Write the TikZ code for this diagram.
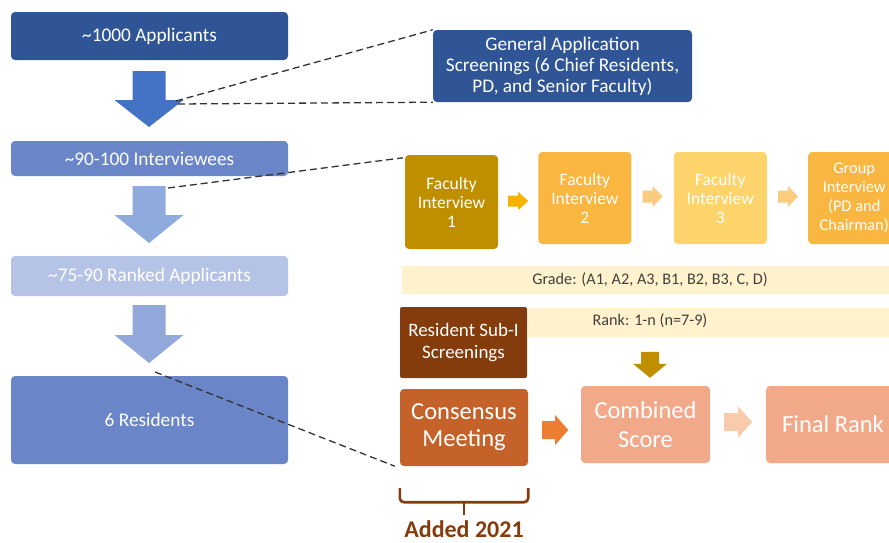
\documentclass[tikz,border=0pt]{standalone}
\usepackage{fontspec}
\setmainfont{Carlito}
\usetikzlibrary{positioning}

\definecolor{navy}{HTML}{2F5597}
\definecolor{midblue}{HTML}{6A86C8}
\definecolor{paleblue}{HTML}{B4C3E6}
\definecolor{arrowA}{HTML}{4472C4}
\definecolor{arrowB}{HTML}{8FAADC}
\definecolor{arrowC}{HTML}{93A8DA}
\definecolor{darkgold}{HTML}{BF8F00}
\definecolor{gold}{HTML}{F5B300}
\definecolor{amber}{HTML}{F9B640}
\definecolor{lightamber}{HTML}{FDD36C}
\definecolor{paleamber}{HTML}{FBCB80}
\definecolor{cream}{HTML}{FFF2CC}
\definecolor{brown}{HTML}{843C0C}
\definecolor{rust}{HTML}{C4622A}
\definecolor{orange}{HTML}{ED7D31}
\definecolor{salmon}{HTML}{F2A98A}
\definecolor{palesalmon}{HTML}{F8CBAD}

\tikzset{
  pics/blockarrow/.style n args={4}{code={
    \fill[sharp corners, pic actions] (0,-#2) -- (#4,-#2) -- (#4,-#3) -- (#1,0)
      -- (#4,#3) -- (#4,#2) -- (0,#2) -- cycle;
  }}
}

\begin{document}
\begin{tikzpicture}[x=1pt, y=-1pt,
    every node/.style={rounded corners=4pt, inner sep=0pt, align=center, text=white},
    stage/.style={fill=#1, minimum width=277pt, font=\fontsize{19.3}{22}\selectfont},
    interview/.style={fill=#1, minimum width=93pt, minimum height=92pt,
                      font=\fontsize{17.5}{19}\selectfont},
    outcome/.style={fill=#1, minimum height=77pt, font=\fontsize{24.5}{28}\selectfont},
    band/.style={fill=cream, rounded corners=2pt},
    bandtext/.style={text=black!75, font=\fontsize{16.2}{18}\selectfont},
    guide/.style={draw=black!80, line width=1.3pt, dash pattern=on 7pt off 4pt}
  ]
    \useasboundingbox (0,0) rectangle (889,542);
    \clip (0,0) rectangle (889,542);

    % left funnel
    \node[stage=navy, minimum height=48pt] (applicants) at (149.5,36) {\textasciitilde1000 Applicants};
    \node[stage=midblue, minimum height=35pt] (interviewees) at (149.5,158.5) {\textasciitilde90-100 Interviewees};
    \node[stage=paleblue, minimum height=40pt] (ranked) at (149.5,276) {\textasciitilde75-90 Ranked Applicants};
    \node[stage=midblue, minimum height=88pt] (residents) at (149.5,420) {6 Residents};

    \pic[fill=arrowA, rotate=-90] at (149,71) {blockarrow={56}{16.5}{34.5}{29}};
    \pic[fill=arrowB, rotate=-90] at (149,186) {blockarrow={57}{16.5}{34.5}{29}};
    \pic[fill=arrowC, rotate=-90] at (149,305) {blockarrow={58}{16.5}{34.5}{30}};

    \coordinate (cut1a) at (176,101);
    \coordinate (cut1b) at (178,104);
    \coordinate (cut2) at (168,188);
    \coordinate (cut3) at (155,372);

    % screening box
    \node[fill=navy, minimum width=259pt, minimum height=72pt,
          font=\fontsize{19.3}{21}\selectfont] (general) at (562.5,66)
          {General Application\\Screenings (6 Chief Residents,\\PD, and Senior Faculty)};

    % interview row
    \node[interview=darkgold, minimum height=94pt] (fi1) at (451.5,202) {Faculty\\Interview\\1};
    \node[interview=amber, right=40pt of fi1, yshift=4pt] (fi2) {Faculty\\Interview\\2};
    \node[interview=lightamber, right=42pt of fi2] (fi3) {Faculty\\Interview\\3};
    \node[interview=amber, right=41pt of fi3, minimum width=92pt,
          font=\fontsize{16.4}{19}\selectfont] (group) {Group\\Interview\\(PD and\\Chairman)};

    \pic[fill=gold] at ([xshift=10pt, yshift=1pt]fi1.east) {blockarrow={20}{5.5}{9}{10}};
    \pic[fill=paleamber] at ([xshift=11pt, yshift=1.5pt]fi2.east) {blockarrow={20}{6}{10.5}{10}};
    \pic[fill=paleamber] at ([xshift=11pt, yshift=1.5pt]fi3.east) {blockarrow={20}{6}{10.5}{10}};

    \node[band, minimum width=498pt, minimum height=28pt] (gradeband) at (651,280) {};
    \node[bandtext] (grade) at (650,280) {Grade: (A1, A2, A3, B1, B2, B3, C, D)};
    \node[band, minimum width=372pt, minimum height=29pt] (rankband) at (714,322.5) {};
    \node[bandtext] (rank) at (650,321) {Rank: 1-n (n=7-9)};

    % resident part
    \node[fill=brown, minimum width=127pt, minimum height=71pt, rounded corners=2pt,
          font=\fontsize{19}{22}\selectfont] (subi) at (463.5,342.5) {Resident Sub-I\\Screenings};
    \node[outcome=rust, minimum width=128pt, font=\fontsize{24.5}{27}\selectfont] (consensus) at (464,427.5) {Consensus\\Meeting};
    \node[outcome=salmon, minimum width=129pt, font=\fontsize{24.5}{29}\selectfont] (combined) at (645.5,424.5) {Combined\\Score};
    \node[outcome=salmon, minimum width=134pt] (final) at (833,424.5) {Final Rank};

    \pic[fill=darkgold, rotate=-90] at ([xshift=4.5pt, yshift=34pt]combined.north) {blockarrow={26}{9}{17}{12}};
    \pic[fill=orange] at ([xshift=14pt, yshift=-2.5pt]consensus.east) {blockarrow={26}{9}{15}{13}};
    \pic[fill=palesalmon] at ([xshift=14pt, yshift=2.5pt]combined.east) {blockarrow={28}{9}{15.5}{14}};

    % dashed guides
    \draw[guide] (cut1a) -- (general.north west);
    \draw[guide] (cut1b) -- (general.south west);
    \draw[guide] (cut2) -- ([xshift=-2pt, yshift=-3pt]fi1.north west);
    \draw[guide] (cut3) -- ([xshift=-5pt]consensus.south west);

    % bracket
    \draw[brown, line width=2.6pt, rounded corners=4pt]
        ([yshift=-22pt]consensus.south west) -- ([yshift=-36pt]consensus.south west)
        -- ([yshift=-36pt]consensus.south east) -- ([yshift=-22pt]consensus.south east);
    \draw[brown, line width=2.6pt] ([yshift=-36pt]consensus.south) -- ([yshift=-49pt]consensus.south);
    \node[text=brown, anchor=base, font=\bfseries\fontsize{24}{26}\selectfont] (added) at (464,537.5) {Added 2021};
\end{tikzpicture}
\end{document}
